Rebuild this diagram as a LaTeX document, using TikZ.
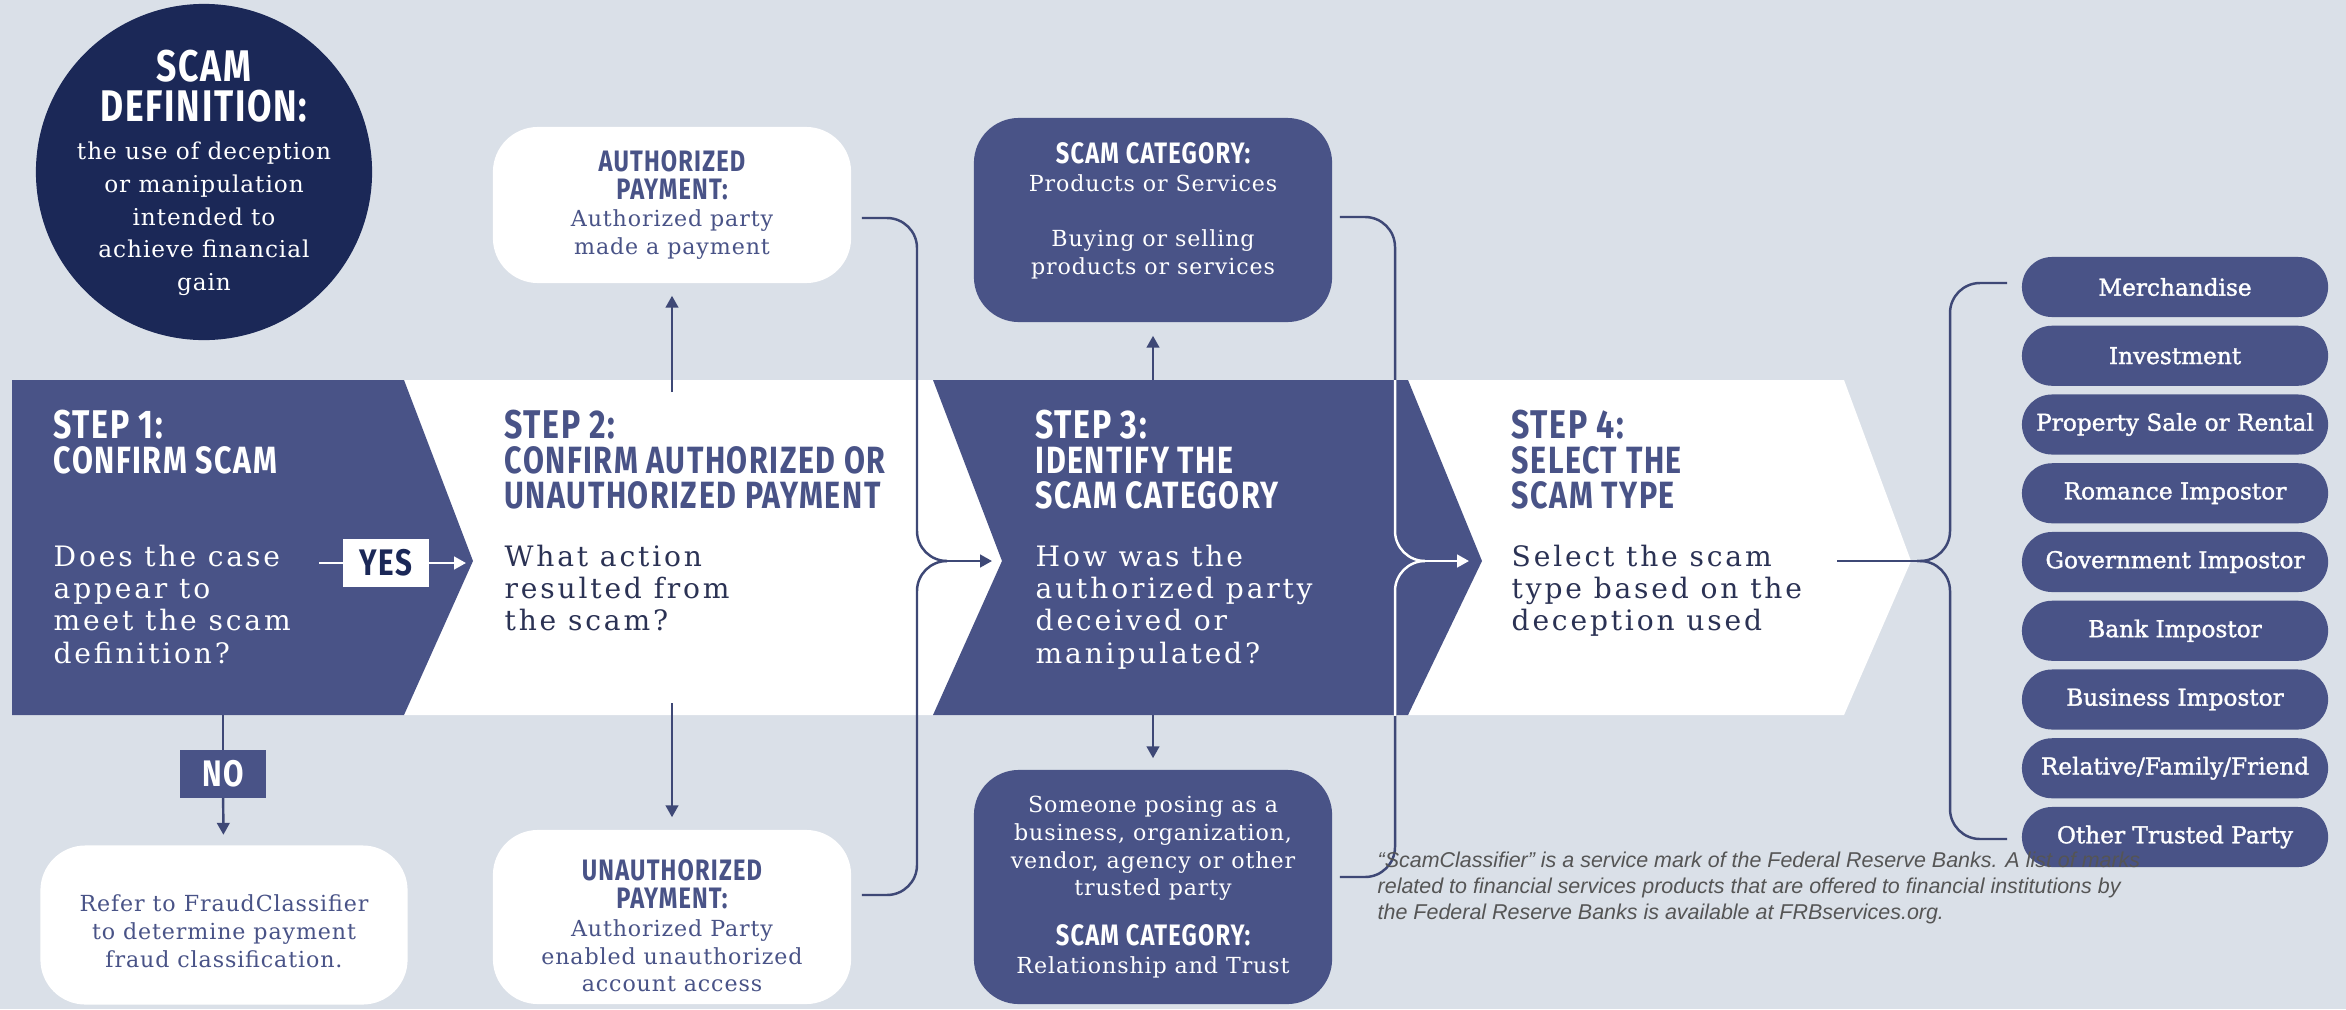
\documentclass[tikz,border=0pt]{standalone}
\usepackage{fontspec}
\usepackage{xcolor}
\usetikzlibrary{arrows.meta}

\setmainfont{DejaVu Serif}
\newfontfamily\headfont[FakeStretch=0.8,LetterSpace=4]{Fira Sans}
\newfontfamily\stepfont[LetterSpace=10]{DejaVu Serif}
\newfontfamily\boxfont[LetterSpace=4]{DejaVu Serif}
\newfontfamily\pillfont[FakeBold=1.5]{DejaVu Serif}
\newfontfamily\notefont{Liberation Sans}

\newcommand{\boxhead}[1]{{\headfont\bfseries\fontsize{8.4}{7.9}\selectfont #1}}

\definecolor{bgcol}{RGB}{218,224,232}
\definecolor{chev}{RGB}{73,83,135}
\definecolor{circcol}{RGB}{27,40,87}
\definecolor{linecol}{RGB}{62,72,118}
\definecolor{textcol}{RGB}{43,50,84}
\definecolor{notecol}{RGB}{85,85,85}

\begin{document}
\begin{tikzpicture}[x=0.01cm, y=-0.01cm,
		line/.style={draw=linecol, line width=0.7pt},
		wline/.style={draw=white, line width=0.7pt},
		tip/.style={-{Triangle[width=3.6pt,length=3.4pt]}},
		wbox/.style={fill=white, rounded corners=0.45cm, minimum width=3.58cm, inner sep=0pt},
		dbox/.style={fill=chev, rounded corners=0.45cm, minimum width=3.58cm, inner sep=0pt},
		wtext/.style={align=center, inner sep=0pt, text=chev, font=\boxfont\fontsize{6.3}{7.9}\selectfont},
		dtext/.style={align=center, inner sep=0pt, text=white, font=\boxfont\fontsize{6.3}{7.9}\selectfont},
		pill/.style={fill=chev, rounded corners=0.3cm, minimum width=3.06cm, minimum height=0.6cm, inner sep=0pt, text=white, font=\pillfont\fontsize{6.6}{7}\selectfont},
		stephead/.style={anchor=north west, inner sep=0pt, align=left, font=\headfont\bfseries\fontsize{10.8}{10}\selectfont},
		stepbody/.style={anchor=north west, inner sep=0pt, align=left, font=\stepfont\fontsize{8}{9.2}\selectfont},
		tag/.style={inner sep=0pt, minimum width=0.85cm, minimum height=0.47cm, font=\headfont\bfseries\fontsize{10.5}{10}\selectfont}
	]
	
	% background
	\fill[bgcol] (0,0) rectangle (2346,1009);
	\useasboundingbox (0,0) rectangle (2346,1009);
	
	% white band and the two dark chevrons
	\fill[white] (12,380) -- (1844,380) -- (1911,561) -- (1844,715) -- (12,715) -- cycle;
	\fill[chev] (12,380) -- (404,380) -- (473,561) -- (404,715) -- (12,715) -- cycle;
	\fill[chev] (933,380) -- (1408,380) -- (1482,561) -- (1408,715) -- (933,715) -- (1002,561) -- cycle;
	
	% definition circle
	\node[circle, fill=circcol, minimum size=3.36cm, inner sep=0pt] (def) at (204,172) {};
	\node[text=white, align=center, inner sep=0pt, font=\headfont\bfseries\fontsize{12.6}{11.4}\selectfont] (defhead) at (204,86) {SCAM\\DEFINITION:};
	\node[text=white, align=center, inner sep=0pt, font=\boxfont\fontsize{6.6}{9.3}\selectfont] (defbody) at (204,219) {the use of deception\\or manipulation\\intended to\\achieve financial\\gain};
	
	% step texts
	\node[stephead, text=white] (s1head) at (53,409) {{\fontsize{11.4}{10}\selectfont STEP 1:}\\CONFIRM SCAM};
	\node[stepbody, text=white] (s1body) at (53,544) {Does the case\\appear to\\meet the scam\\definition?};
	\node[stephead, text=chev] (s2head) at (504,409) {{\fontsize{11.4}{10}\selectfont STEP 2:}\\CONFIRM AUTHORIZED OR\\UNAUTHORIZED PAYMENT};
	\node[stepbody, text=textcol] (s2body) at (504,544) {What action\\resulted from\\the scam?};
	\node[stephead, text=white] (s3head) at (1035,409) {{\fontsize{11.4}{10}\selectfont STEP 3:}\\IDENTIFY THE\\SCAM CATEGORY};
	\node[stepbody, text=white] (s3body) at (1035,544) {How was the\\authorized party\\deceived or\\manipulated?};
	\node[stephead, text=chev] (s4head) at (1511,409) {{\fontsize{11.4}{10}\selectfont STEP 4:}\\SELECT THE\\SCAM TYPE};
	\node[stepbody, text=textcol] (s4body) at (1511,544) {Select the scam\\type based on the\\deception used};
	
	% yes / no
	\node[tag, fill=white, text=circcol] (yes) at (386,563) {YES};
	\node[tag, fill=chev, text=white] (no) at (223,774) {NO};
	
	% payment boxes
	\node[wbox, minimum height=1.56cm] (authp) at (672,205) {};
	\node[wtext] (authtxt) at (authp.center) {\boxhead{AUTHORIZED}\\\boxhead{PAYMENT:}\\Authorized party\\made a payment};
	\node[wbox, minimum height=1.74cm] (unauth) at (672,917) {};
	\node[wtext] (unauthtxt) at ([yshift=-0.09cm]unauth.center) {\boxhead{UNAUTHORIZED}\\\boxhead{PAYMENT:}\\Authorized Party\\enabled unauthorized\\account access};
	\node[wbox, minimum width=3.67cm, minimum height=1.59cm] (refer) at (224,925) {};
	\node[wtext] (refertxt) at ([yshift=-0.06cm]refer.center) {Refer to FraudClassifier\\to determine payment\\fraud classification.};
	
	% category boxes
	\node[dbox, minimum height=2.04cm] (topcat) at (1153,220) {};
	\node[dtext] (topcattxt) at ([yshift=0.09cm]topcat.center) {\boxhead{SCAM CATEGORY:}\\Products or Services\\[7.7pt]Buying or selling\\products or services};
	\node[dbox, minimum height=2.34cm] (botcat) at (1153,887) {};
	\node[dtext] (botcattxt) at (botcat.center) {Someone posing as a\\business, organization,\\vendor, agency or other\\trusted party\\[6.2pt]\boxhead{SCAM CATEGORY:}\\Relationship and Trust};
	
	% scam types
	\foreach \name [count=\i from 0] in {Merchandise, Investment, Property Sale or Rental, Romance Impostor, Government Impostor, Bank Impostor, Business Impostor, Relative/Family/Friend, Other Trusted Party}
		\node[pill] (type\i) at (2175,{287+68.75*\i}) {\name};
	
	% step 1 connectors
	\coordinate (s1out) at (319,563);
	\coordinate (s2in) at (466,563);
	\coordinate (s1bot) at (223,715);
	\draw[wline] (s1out) -- (yes);
	\draw[wline, tip] (yes) -- (s2in);
	\draw[line] (s1bot) -- (no);
	\draw[line, tip, shorten >=0.1cm] (no) -- (refer);
	
	% step 2 connectors
	\coordinate (s2top) at (672,392);
	\coordinate (s2bot) at (672,703);
	\draw[line, tip, shorten >=0.12cm] (s2top) -- (authp.south);
	\draw[line, tip, shorten >=0.12cm] (s2bot) -- (unauth.north);
	
	% brace into step 3
	\coordinate (b3spine) at (917,561);
	\coordinate (b3tip) at (947,561);
	\coordinate (s3in) at (992,561);
	\draw[line, rounded corners=0.3cm] ([xshift=0.1cm,yshift=-0.13cm]authp.east) -| (b3spine) -- (b3tip);
	\draw[line, rounded corners=0.3cm] ([xshift=0.1cm,yshift=0.22cm]unauth.east) -| (b3spine) -- (b3tip);
	\draw[line, tip] (b3tip) -- (s3in);
	
	% step 3 connectors
	\coordinate (s3top) at (1153,380);
	\coordinate (s3bot) at (1153,715);
	\draw[line, tip, shorten >=0.13cm] (s3top) -- (topcat.south);
	\draw[line, tip, shorten >=0.11cm] (s3bot) -- (botcat.north);
	
	% brace into step 4
	\coordinate (b4spine) at (1395,561);
	\coordinate (b4tip) at (1425,561);
	\coordinate (s4in) at (1469,561);
	\draw[line, rounded corners=0.3cm] ([xshift=0.07cm,yshift=0.03cm]topcat.east) -| (b4spine) -- (b4tip);
	\draw[line, rounded corners=0.3cm] ([xshift=0.07cm,yshift=0.1cm]botcat.east) -| (b4spine) -- (b4tip);
	\begin{scope}
		\clip (1300,380) rectangle (1482,715);
		\draw[wline, rounded corners=0.3cm] ([xshift=0.07cm,yshift=0.03cm]topcat.east) -| (b4spine) -- (b4tip);
		\draw[wline, rounded corners=0.3cm] ([xshift=0.07cm,yshift=0.1cm]botcat.east) -| (b4spine) -- (b4tip);
	\end{scope}
	\draw[wline, tip] (b4tip) -- (s4in);
	
	% bracket to the scam types
	\coordinate (s4out) at (1837,561);
	\coordinate (rspine) at (1950,561);
	\coordinate (rtip) at (1917,561);
	\draw[line] (s4out) -- (rtip);
	\draw[line, rounded corners=0.3cm] ([xshift=-0.14cm,yshift=0.04cm]type0.west) -| (rspine) -- (rtip);
	\draw[line, rounded corners=0.3cm] ([xshift=-0.14cm,yshift=-0.02cm]type8.west) -| (rspine) -- (rtip);
	
	% footnote
	\node[anchor=north west, inner sep=0pt, align=left, text=notecol, font=\notefont\itshape\fontsize{6.1}{7.4}\selectfont] (note) at (1377,851) {“ScamClassifier” is a service mark of the Federal Reserve Banks. A list of marks\\related to financial services products that are offered to financial institutions by\\the Federal Reserve Banks is available at FRBservices.org.};
	
\end{tikzpicture}
\end{document}
